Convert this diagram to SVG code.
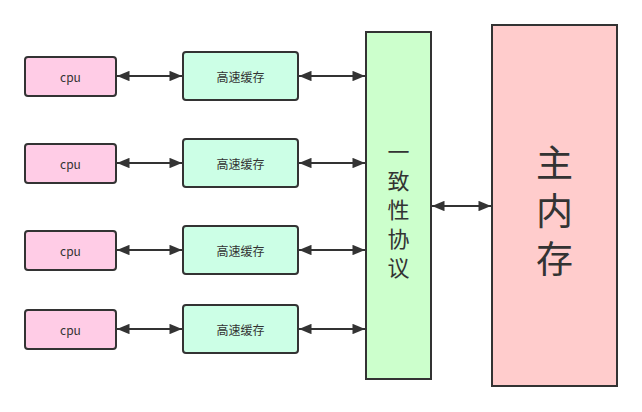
<svg xmlns="http://www.w3.org/2000/svg" width="642" height="412" viewBox="0 0 642 412">
<style>
.box{stroke:#333;stroke-width:2}
.cpu{fill:#FFCCE6}
.cache{fill:#CCFFE6}
.t{font-family:"Noto Sans CJK SC","Liberation Sans",sans-serif;fill:#333;text-anchor:middle;dominant-baseline:central}
.s{font-size:12px}
.v{writing-mode:vertical-rl;text-orientation:upright}
.c{stroke:#333;stroke-width:2;fill:none;marker-start:url(#a);marker-end:url(#a)}
</style>
<defs>
<marker id="a" viewBox="0 0 12 10" refX="12" refY="5" markerWidth="6.5" markerHeight="5.2" orient="auto-start-reverse" markerUnits="strokeWidth">
<path d="M0,0 L12,5 L0,10 Z" fill="#333"/>
</marker>
</defs>
<rect width="642" height="412" fill="#fff"/>
<g id="connectors">
<line class="c" x1="117" y1="76" x2="182" y2="76"/>
<line class="c" x1="299" y1="76" x2="365" y2="76"/>
<line class="c" x1="117" y1="163" x2="182" y2="163"/>
<line class="c" x1="299" y1="163" x2="365" y2="163"/>
<line class="c" x1="117" y1="250" x2="182" y2="250"/>
<line class="c" x1="299" y1="250" x2="365" y2="250"/>
<line class="c" x1="117" y1="329" x2="182" y2="329"/>
<line class="c" x1="299" y1="329" x2="365" y2="329"/>
<line class="c" x1="432" y1="206" x2="491" y2="206"/>
</g>
<g id="cpu1"><rect class="box cpu" x="25" y="57" width="91" height="39" rx="3"/><text class="t s" x="70.5" y="76.5">cpu</text></g>
<g id="cache1"><rect class="box cache" x="183" y="52" width="115" height="48" rx="3"/><text class="t s" x="240.5" y="76">高速缓存</text></g>
<g id="cpu2"><rect class="box cpu" x="25" y="144" width="91" height="39" rx="3"/><text class="t s" x="70.5" y="163.5">cpu</text></g>
<g id="cache2"><rect class="box cache" x="183" y="139" width="115" height="48" rx="3"/><text class="t s" x="240.5" y="163">高速缓存</text></g>
<g id="cpu3"><rect class="box cpu" x="25" y="231" width="91" height="39" rx="3"/><text class="t s" x="70.5" y="250.5">cpu</text></g>
<g id="cache3"><rect class="box cache" x="183" y="226" width="115" height="48" rx="3"/><text class="t s" x="240.5" y="250">高速缓存</text></g>
<g id="cpu4"><rect class="box cpu" x="25" y="310" width="91" height="39" rx="3"/><text class="t s" x="70.5" y="329.5">cpu</text></g>
<g id="cache4"><rect class="box cache" x="183" y="305" width="115" height="48" rx="3"/><text class="t s" x="240.5" y="329">高速缓存</text></g>
<g id="coherence"><rect class="box" fill="#CCFFCC" x="366" y="32" width="65" height="347"/>
<text class="t v" font-size="22" letter-spacing="7" x="398.5" y="213.5">一致性协议</text>
</g>
<g id="memory"><rect class="box" fill="#FFCCCC" x="492" y="25" width="125" height="361"/>
<text class="t v" font-size="37" letter-spacing="11" x="554.5" y="216">主内存</text>
</g>
</svg>
